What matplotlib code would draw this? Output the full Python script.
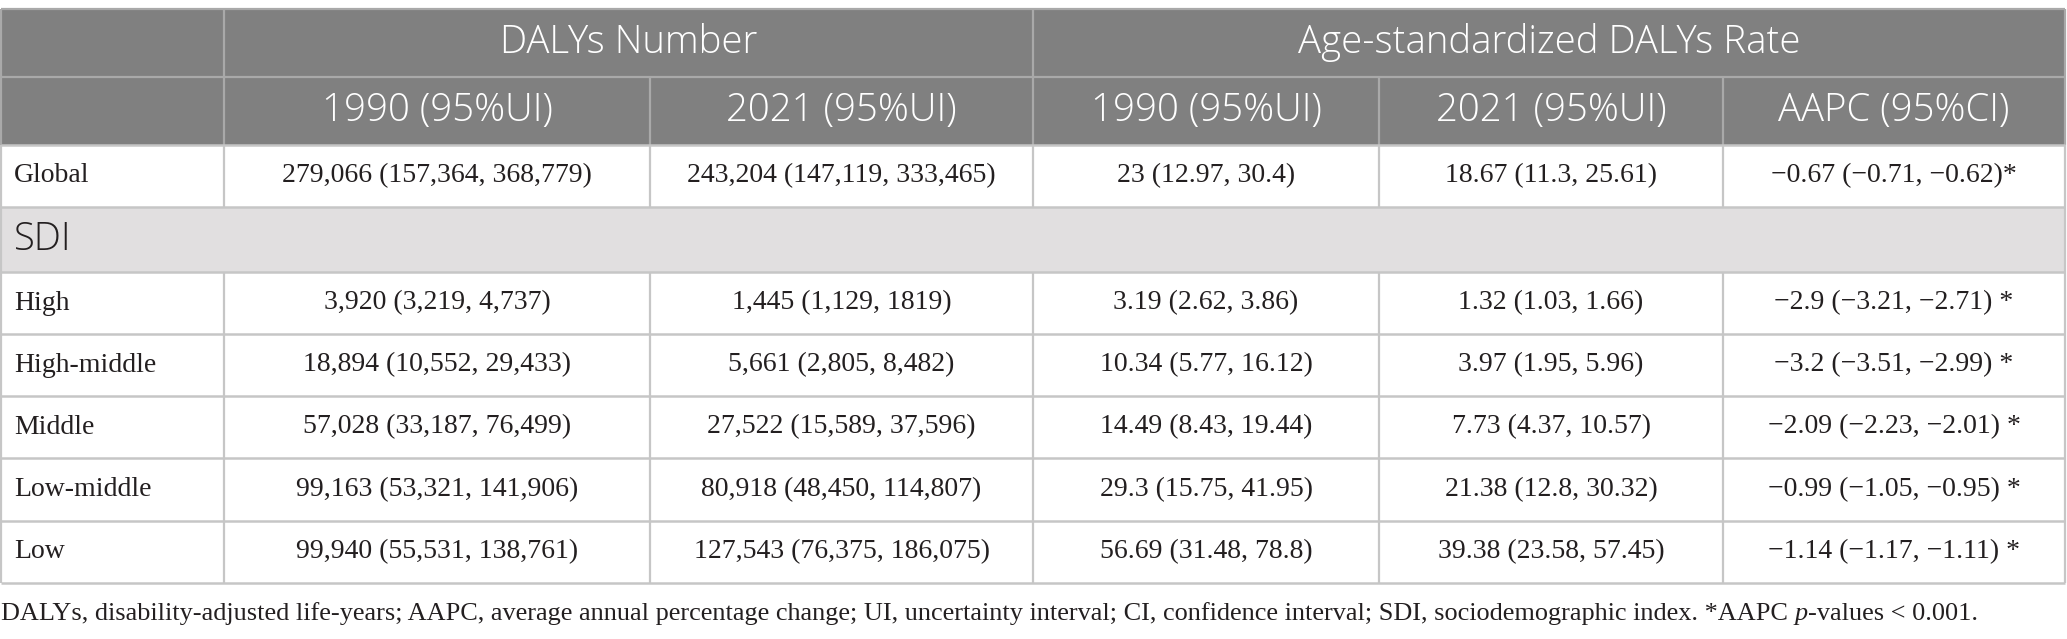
import matplotlib
matplotlib.use("Agg")
import matplotlib.pyplot as plt
from matplotlib.patches import Rectangle
from matplotlib import font_manager as fm

# ---------------- data ----------------
group_headers = ["DALYs Number", "Age-standardized DALYs Rate"]
col_headers = ["1990 (95%UI)", "2021 (95%UI)", "1990 (95%UI)", "2021 (95%UI)", "AAPC (95%CI)"]

global_label = "Global"
global_values = ["279,066 (157,364, 368,779)", "243,204 (147,119, 333,465)",
                 "23 (12.97, 30.4)", "18.67 (11.3, 25.61)",
                 "\u22120.67 (\u22120.71, \u22120.62)*"]

section_label = "SDI"
sdi_labels = ["High", "High-middle", "Middle", "Low-middle", "Low"]
dalys_1990 = ["3,920 (3,219, 4,737)", "18,894 (10,552, 29,433)", "57,028 (33,187, 76,499)",
              "99,163 (53,321, 141,906)", "99,940 (55,531, 138,761)"]
dalys_2021 = ["1,445 (1,129, 1819)", "5,661 (2,805, 8,482)", "27,522 (15,589, 37,596)",
              "80,918 (48,450, 114,807)", "127,543 (76,375, 186,075)"]
asr_1990 = ["3.19 (2.62, 3.86)", "10.34 (5.77, 16.12)", "14.49 (8.43, 19.44)",
            "29.3 (15.75, 41.95)", "56.69 (31.48, 78.8)"]
asr_2021 = ["1.32 (1.03, 1.66)", "3.97 (1.95, 5.96)", "7.73 (4.37, 10.57)",
            "21.38 (12.8, 30.32)", "39.38 (23.58, 57.45)"]
aapc = ["\u22122.9 (\u22123.21, \u22122.71) *", "\u22123.2 (\u22123.51, \u22122.99) *",
        "\u22122.09 (\u22122.23, \u22122.01) *", "\u22120.99 (\u22121.05, \u22120.95) *",
        "\u22121.14 (\u22121.17, \u22121.11) *"]

footnote_a = ("DALYs, disability-adjusted life-years; AAPC, average annual percentage change; "
              "UI, uncertainty interval; CI, confidence interval; SDI, sociodemographic index. *AAPC ")
footnote_it = "p"
footnote_b = "-values < 0.001."

# ---------------- layout / style ----------------
W, H = 2067, 639
col_edges = [1, 224, 650, 1033, 1379, 1723, 2065]
row_edges = [9, 77, 145, 207, 272, 334, 396, 458, 521, 583]

HEAD_BG = "#808080"
HEAD_LINE = "#a9a9a9"
BODY_LINE = "#c6c6c6"
SEC_BG = "#e1dfe0"
TXT = "#231f20"
SANS = "Open Sans"
SERIF = "Liberation Serif"
HEAD_FS = 27.6
BODY_FS = 20
FOOT_FS = 18.9

# use a light weight for the header if one is installed
head_weight = "normal"
for f in fm.fontManager.ttflist:
    if f.name == SANS and isinstance(f.weight, int) and 250 <= f.weight <= 350:
        head_weight = "light"
        break

fig = plt.figure(figsize=(W / 100, H / 100), dpi=100)
ax = fig.add_axes([0, 0, 1, 1])
ax.set_xlim(0, W)
ax.set_ylim(H, 0)
ax.axis("off")

# header background
ax.add_patch(Rectangle((col_edges[0], row_edges[0]), col_edges[-1] - col_edges[0],
                       row_edges[2] - row_edges[0], facecolor=HEAD_BG, edgecolor="none", zorder=1))
# section background
ax.add_patch(Rectangle((col_edges[0], row_edges[3]), col_edges[-1] - col_edges[0],
                       row_edges[4] - row_edges[3], facecolor=SEC_BG, edgecolor="none", zorder=1))

# header lines
ax.hlines([row_edges[0], row_edges[1]], col_edges[0], col_edges[-1], color=HEAD_LINE, lw=1.6, zorder=2)
ax.vlines([col_edges[0], col_edges[1], col_edges[3], col_edges[-1]], row_edges[0], row_edges[1],
          color=HEAD_LINE, lw=1.6, zorder=2)
ax.vlines(col_edges, row_edges[1], row_edges[2], color=HEAD_LINE, lw=1.6, zorder=2)

# body lines
ax.hlines(row_edges[2:], col_edges[0], col_edges[-1], color=BODY_LINE, lw=1.8, zorder=2)
ax.vlines(col_edges, row_edges[2], row_edges[3], color=BODY_LINE, lw=1.6, zorder=2)
ax.vlines([col_edges[0], col_edges[-1]], row_edges[3], row_edges[4], color=BODY_LINE, lw=1.6, zorder=2)
ax.vlines(col_edges, row_edges[4], row_edges[-1], color=BODY_LINE, lw=1.6, zorder=2)


def mid(a, b):
    return (a + b) / 2


hkw = dict(ha="center", va="center", color="white", fontsize=HEAD_FS, family=SANS,
           weight=head_weight, zorder=3)
# header texts
ax.text(mid(col_edges[1], col_edges[3]), mid(row_edges[0], row_edges[1]), group_headers[0], **hkw)
ax.text(mid(col_edges[3], col_edges[-1]), mid(row_edges[0], row_edges[1]), group_headers[1], **hkw)
for j, h in enumerate(col_headers):
    ax.text(mid(col_edges[j + 1], col_edges[j + 2]), mid(row_edges[1], row_edges[2]), h, **hkw)

LPAD = 13


def body_row(r, label, vals):
    yc = mid(row_edges[r], row_edges[r + 1])
    ax.text(col_edges[0] + LPAD, yc, label, ha="left", va="center", color=TXT,
            fontsize=BODY_FS, family=SERIF, zorder=3)
    for j, v in enumerate(vals):
        ax.text(mid(col_edges[j + 1], col_edges[j + 2]), yc, v, ha="center", va="center",
                color=TXT, fontsize=BODY_FS, family=SERIF, zorder=3)


body_row(2, global_label, global_values)
ax.text(col_edges[0] + LPAD, mid(row_edges[3], row_edges[4]), section_label, ha="left", va="center",
        color=TXT, fontsize=HEAD_FS, family=SANS, weight=head_weight, zorder=3)
for i, lab in enumerate(sdi_labels):
    body_row(4 + i, lab, [dalys_1990[i], dalys_2021[i], asr_1990[i], asr_2021[i], aapc[i]])

# footnote with italic p
fy = 614
renderer = fig.canvas.get_renderer()
t1 = ax.text(1, fy, footnote_a, ha="left", va="center", color=TXT, fontsize=FOOT_FS, family=SERIF)
bb = t1.get_window_extent(renderer)
x1 = ax.transData.inverted().transform((bb.x1, 0))[0]
t2 = ax.text(x1, fy, footnote_it, ha="left", va="center", color=TXT, fontsize=FOOT_FS,
             family=SERIF, style="italic")
bb2 = t2.get_window_extent(renderer)
x2 = ax.transData.inverted().transform((bb2.x1, 0))[0]
ax.text(x2, fy, footnote_b, ha="left", va="center", color=TXT, fontsize=FOOT_FS, family=SERIF)

fig.savefig("out.png", dpi=100, facecolor="white")
